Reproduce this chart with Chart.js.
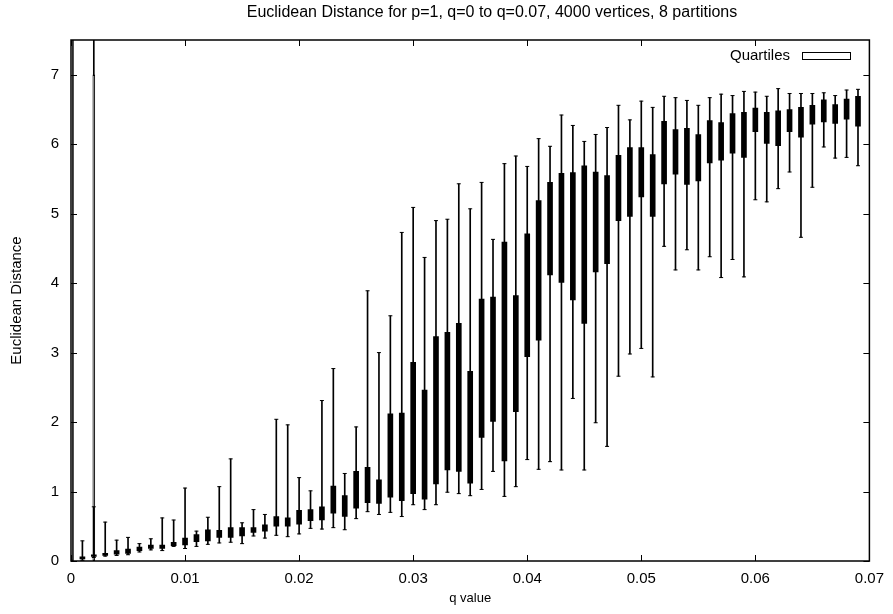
<!DOCTYPE html>
<html>
<head>
<meta charset="utf-8">
<script src="https://cdn.jsdelivr.net/npm/chart.js@4.4.0/dist/chart.umd.min.js"></script>
<style>
  body { margin: 0; background: #fff; }
  canvas { display: block; }
</style>
</head>
<body>
<canvas id="chart" width="893" height="614"></canvas>
<script>
// q values for the regular candlesticks (q = 0.001 .. 0.069)
const qValues = [
  0.001, 0.002, 0.003, 0.004, 0.005, 0.006, 0.007, 0.008, 0.009, 0.010,
  0.011, 0.012, 0.013, 0.014, 0.015, 0.016, 0.017, 0.018, 0.019, 0.020,
  0.021, 0.022, 0.023, 0.024, 0.025, 0.026, 0.027, 0.028, 0.029, 0.030,
  0.031, 0.032, 0.033, 0.034, 0.035, 0.036, 0.037, 0.038, 0.039, 0.040,
  0.041, 0.042, 0.043, 0.044, 0.045, 0.046, 0.047, 0.048, 0.049, 0.050,
  0.051, 0.052, 0.053, 0.054, 0.055, 0.056, 0.057, 0.058, 0.059, 0.060,
  0.061, 0.062, 0.063, 0.064, 0.065, 0.066, 0.067, 0.068, 0.069
];
const whiskerMin = [
  0.01, 0.05, 0.07, 0.08, 0.09, 0.13, 0.16, 0.15, 0.21, 0.18,
  0.21, 0.24, 0.26, 0.27, 0.25, 0.36, 0.33, 0.37, 0.35, 0.39,
  0.47, 0.46, 0.48, 0.45, 0.61, 0.71, 0.67, 0.70, 0.64, 0.81,
  0.74, 0.81, 0.99, 0.97, 0.94, 1.03, 1.29, 0.93, 1.07, 1.46,
  1.32, 1.43, 1.31, 2.34, 1.31, 1.99, 1.65, 2.66, 2.98, 3.06,
  2.65, 4.53, 4.19, 4.48, 4.19, 4.38, 4.08, 4.34, 4.09, 5.20,
  5.17, 5.36, 5.60, 4.66, 5.38, 5.96, 5.80, 5.81, 5.69
];
const quartileLow = [
  0.03, 0.065, 0.08, 0.10, 0.11, 0.15, 0.18, 0.18, 0.22, 0.23,
  0.28, 0.29, 0.34, 0.34, 0.36, 0.41, 0.43, 0.50, 0.50, 0.53,
  0.58, 0.59, 0.69, 0.64, 0.76, 0.84, 0.83, 0.92, 0.87, 0.97,
  0.89, 1.11, 1.31, 1.29, 1.12, 1.78, 2.01, 1.44, 2.15, 2.94,
  3.18, 4.12, 4.01, 3.76, 3.42, 4.16, 4.28, 4.90, 4.96, 5.24,
  4.96, 5.43, 5.57, 5.42, 5.47, 5.73, 5.77, 5.87, 5.81, 6.18,
  6.01, 5.98, 6.18, 6.10, 6.29, 6.32, 6.30, 6.36, 6.26
];
const quartileHigh = [
  0.06, 0.09, 0.11, 0.15, 0.17, 0.20, 0.23, 0.23, 0.27, 0.33,
  0.38, 0.45, 0.44, 0.48, 0.48, 0.48, 0.52, 0.64, 0.62, 0.73,
  0.74, 0.78, 1.08, 0.94, 1.29, 1.35, 1.17, 2.12, 2.13, 2.86,
  2.46, 3.23, 3.29, 3.42, 2.73, 3.77, 3.80, 4.59, 3.82, 4.71,
  5.19, 5.45, 5.58, 5.59, 5.69, 5.60, 5.55, 5.84, 5.95, 5.95,
  5.85, 6.33, 6.21, 6.23, 6.14, 6.34, 6.31, 6.44, 6.46, 6.52,
  6.46, 6.48, 6.50, 6.53, 6.56, 6.64, 6.57, 6.65, 6.69
];
const whiskerMax = [
  0.29, 0.78, 0.56, 0.30, 0.34, 0.25, 0.32, 0.62, 0.59, 1.05,
  0.43, 0.63, 1.07, 1.47, 0.55, 0.74, 0.67, 2.04, 1.96, 1.20,
  1.01, 2.31, 2.77, 1.26, 1.93, 3.89, 3.00, 3.53, 4.73, 5.09,
  4.37, 4.90, 4.92, 5.43, 5.07, 5.45, 4.63, 5.72, 5.83, 5.68,
  6.08, 5.97, 6.42, 6.27, 6.04, 6.14, 6.24, 6.56, 6.35, 6.62,
  6.53, 6.69, 6.67, 6.63, 6.56, 6.67, 6.72, 6.70, 6.76, 6.75,
  6.69, 6.80, 6.73, 6.73, 6.73, 6.74, 6.70, 6.78, 6.79
];

// the two runaway entries at the far left (empty boxes running off the top)
const outlierQ = [0, 0.002];
const outlierLow = [0, 0];
const outlierHigh = [9, 7];
const outlierTailQ = [0.002];
const outlierTailLow = [7];
const outlierTailHigh = [9];

const xTicks = [0, 0.01, 0.02, 0.03, 0.04, 0.05, 0.06, 0.07];
const xTickLabels = ['0', '0.01', '0.02', '0.03', '0.04', '0.05', '0.06', '0.07'];
const yTicks = [0, 1, 2, 3, 4, 5, 6, 7];
const yTickLabels = ['0', '1', '2', '3', '4', '5', '6', '7'];

const chartTitle = 'Euclidean Distance for p=1, q=0 to q=0.07, 4000 vertices, 8 partitions';
const legendLabel = 'Quartiles';

const FONT = '"Liberation Sans", Arial, Helvetica, sans-serif';
Chart.defaults.font.family = FONT;
Chart.defaults.color = '#000';

const floatBars = (lo, hi, qs) => qs.map((q, i) => ({ x: q, y: [lo[i], hi[i]] }));
const points = (vals, qs) => qs.map((q, i) => ({ x: q, y: vals[i] }));
const outlierWidths = [5, 2];

// frame, inward ticks, title and legend in gnuplot style
const gnuplotFrame = {
    id: 'gnuplotFrame',
    afterDatasetsDraw(chart) {
        const { ctx, chartArea: a, scales: { x, y } } = chart;
        ctx.save();
        ctx.strokeStyle = '#000';
        ctx.lineWidth = 1;
        ctx.beginPath();
        xTicks.forEach(v => {
            const px = Math.round(x.getPixelForValue(v)) + 0.5;
            ctx.moveTo(px, a.bottom); ctx.lineTo(px, a.bottom - 6);
            ctx.moveTo(px, a.top); ctx.lineTo(px, a.top + 6);
        });
        yTicks.forEach(v => {
            const py = Math.round(y.getPixelForValue(v)) + 0.5;
            ctx.moveTo(a.left, py); ctx.lineTo(a.left + 6, py);
            ctx.moveTo(a.right, py); ctx.lineTo(a.right - 6, py);
        });
        ctx.stroke();

        ctx.lineWidth = 1.5;
        ctx.strokeRect(a.left, a.top, a.right - a.left, a.bottom - a.top);

        // title
        ctx.fillStyle = '#000';
        ctx.font = '16px ' + FONT;
        ctx.textAlign = 'center';
        ctx.textBaseline = 'middle';
        ctx.fillText(chartTitle, 492, 13);

        // legend
        ctx.font = '15px ' + FONT;
        ctx.textAlign = 'right';
        ctx.fillText(legendLabel, 790, 56);
        ctx.lineWidth = 1;
        ctx.strokeRect(802.5, 52.5, 48, 7);
        ctx.restore();
    }
};

const ctx = document.getElementById('chart').getContext('2d');

new Chart(ctx, {
    type: 'bar',
    data: {
        datasets: [
            {
                type: 'scatter',
                label: 'min',
                data: points(whiskerMin, qValues),
                pointStyle: 'line',
                radius: 2,
                borderColor: '#000',
                borderWidth: 1,
                order: 0
            },
            {
                type: 'scatter',
                label: 'max',
                data: points(whiskerMax, qValues),
                pointStyle: 'line',
                radius: 2,
                borderColor: '#000',
                borderWidth: 1,
                order: 0
            },
            {
                label: 'Quartiles',
                data: floatBars(quartileLow, quartileHigh, qValues),
                backgroundColor: '#000',
                barThickness: 5,
                grouped: false,
                clip: 0,
                order: 1
            },
            {
                label: 'whiskers',
                data: floatBars(whiskerMin, whiskerMax, qValues),
                backgroundColor: '#000',
                barThickness: 1,
                grouped: false,
                clip: 0,
                order: 2
            },
            ...outlierQ.map((q, i) => ({
                label: 'outlier ' + q,
                data: [{ x: q, y: [outlierLow[i], outlierHigh[i]] }],
                backgroundColor: 'rgba(0,0,0,0)',
                borderColor: '#000',
                borderWidth: 1,
                borderSkipped: false,
                barThickness: outlierWidths[i],
                grouped: false,
                clip: 0,
                order: 3
            })),
            {
                label: 'outlier tail',
                data: floatBars(outlierTailLow, outlierTailHigh, outlierTailQ),
                backgroundColor: '#000',
                barThickness: 1,
                grouped: false,
                clip: 0,
                order: 3
            }
        ]
    },
    options: {
        responsive: false,
        animation: false,
        devicePixelRatio: 1,
        layout: { padding: { top: 40, right: 23, left: 0, bottom: 0 } },
        plugins: {
            legend: { display: false },
            title: { display: false },
            tooltip: { enabled: false }
        },
        scales: {
            x: {
                type: 'linear',
                min: 0,
                max: 0.07,
                offset: false,
                grid: { display: false, drawTicks: false },
                border: { display: false },
                afterBuildTicks: scale => { scale.ticks = xTicks.map(v => ({ value: v })); },
                afterFit: scale => { scale.height = 53; },
                ticks: {
                    padding: 9,
                    maxRotation: 0,
                    font: { size: 15 },
                    callback: (value, index) => xTickLabels[index]
                },
                title: {
                    display: true,
                    text: 'q value',
                    font: { size: 13 },
                    padding: { top: 0, bottom: 8 }
                }
            },
            y: {
                min: 0,
                max: 7.5,
                grid: { display: false, drawTicks: false },
                border: { display: false },
                afterBuildTicks: scale => { scale.ticks = yTicks.map(v => ({ value: v })); },
                afterFit: scale => { scale.width = 71; },
                ticks: {
                    padding: 12,
                    font: { size: 15 },
                    callback: (value, index) => yTickLabels[index]
                },
                title: {
                    display: true,
                    text: 'Euclidean Distance',
                    font: { size: 15 },
                    padding: { top: 8, bottom: 0 }
                }
            }
        }
    },
    plugins: [gnuplotFrame]
});
</script>
</body>
</html>
